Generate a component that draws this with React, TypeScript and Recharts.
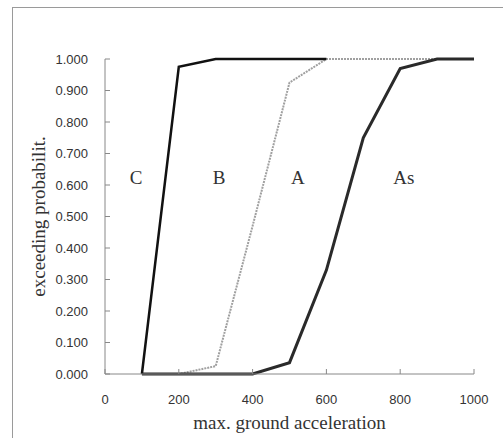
import React from 'react'
import {
  LineChart,
  Line,
  XAxis,
  YAxis,
  ReferenceDot,
} from 'recharts'

// max. ground acceleration (gal)
const accel = [100, 200, 300, 400, 500, 600, 700, 800, 900, 1000]
// exceeding probability per ground class
const classC = [0, 0.975, 1, 1, 1, 1, null, null, null, null]
const classB = [0, 0, 0.025, 0.47, 0.925, 1, 1, 1, 1, 1]
const classAs = [0, 0, 0, 0, 0.036, 0.33, 0.75, 0.97, 1, 1]

const xTicks = [0, 200, 400, 600, 800, 1000]
const yTicks = [0, 0.1, 0.2, 0.3, 0.4, 0.5, 0.6, 0.7, 0.8, 0.9, 1]

// region labels: name, acceleration, probability
const regionNames = ['C', 'B', 'A', 'As']
const regionX = [84, 309, 523, 810]
const regionY = [0.625, 0.625, 0.625, 0.625]

const data = accel.map((x, i) => ({
  x,
  C: classC[i],
  B: classB[i],
  As: classAs[i],
}))

const serif = '"Liberation Serif", "DejaVu Serif", serif'
const sans = '"Liberation Sans", Arial, sans-serif'

export default function App() {
  return (
    <div style={{ position: 'absolute', left: 0, top: 0, width: 503, height: 438, background: '#fff' }}>
      <div
        style={{
          position: 'absolute',
          left: 12,
          top: 7,
          width: 491,
          height: 431,
          borderTop: '1px solid #9a9a9a',
          borderLeft: '1px solid #9a9a9a',
        }}
      />
      <div style={{ position: 'absolute', left: 0, top: 0 }}>
        <LineChart
          width={503}
          height={438}
          data={data}
          margin={{ top: 59, right: 29, left: 45, bottom: 9 }}
        >
          <XAxis
            dataKey="x"
            type="number"
            domain={[0, 1000]}
            ticks={xTicks}
            stroke="#888"
            tickSize={-5}
            tickMargin={26}
            height={55}
            tick={{ fill: '#333', fontSize: 13, fontFamily: sans }}
            label={{
              value: 'max. ground acceleration',
              position: 'insideBottom',
              offset: 0,
              fill: '#333',
              fontSize: 19,
              fontFamily: serif,
            }}
          />
          <YAxis
            type="number"
            domain={[0, 1]}
            ticks={yTicks}
            width={60}
            stroke="#888"
            tickSize={-5}
            tickMargin={22}
            tickFormatter={(v: number) => v.toFixed(3)}
            tick={{ fill: '#333', fontSize: 13, fontFamily: sans }}
            label={{
              value: 'exceeding probabilit.',
              angle: -90,
              position: 'center',
              dx: -37,
              fill: '#333',
              fontSize: 19,
              fontFamily: serif,
            }}
          />
          <Line
            dataKey="B"
            stroke="#a0a0a0"
            strokeWidth={2}
            strokeDasharray="2 1"
            dot={false}
            isAnimationActive={false}
          />
          <Line
            dataKey="As"
            stroke="#2a2a2a"
            strokeWidth={3}
            dot={false}
            isAnimationActive={false}
          />
          <Line
            dataKey="C"
            stroke="#111"
            strokeWidth={2.5}
            dot={false}
            connectNulls={false}
            isAnimationActive={false}
          />
          {regionNames.map((name, i) => (
            <ReferenceDot
              key={name}
              x={regionX[i]}
              y={regionY[i]}
              r={0}
              fill="none"
              stroke="none"
              label={{
                value: name,
                position: 'center',
                fill: '#333',
                fontSize: 19,
                fontFamily: serif,
              }}
            />
          ))}
        </LineChart>
      </div>
    </div>
  )
}
